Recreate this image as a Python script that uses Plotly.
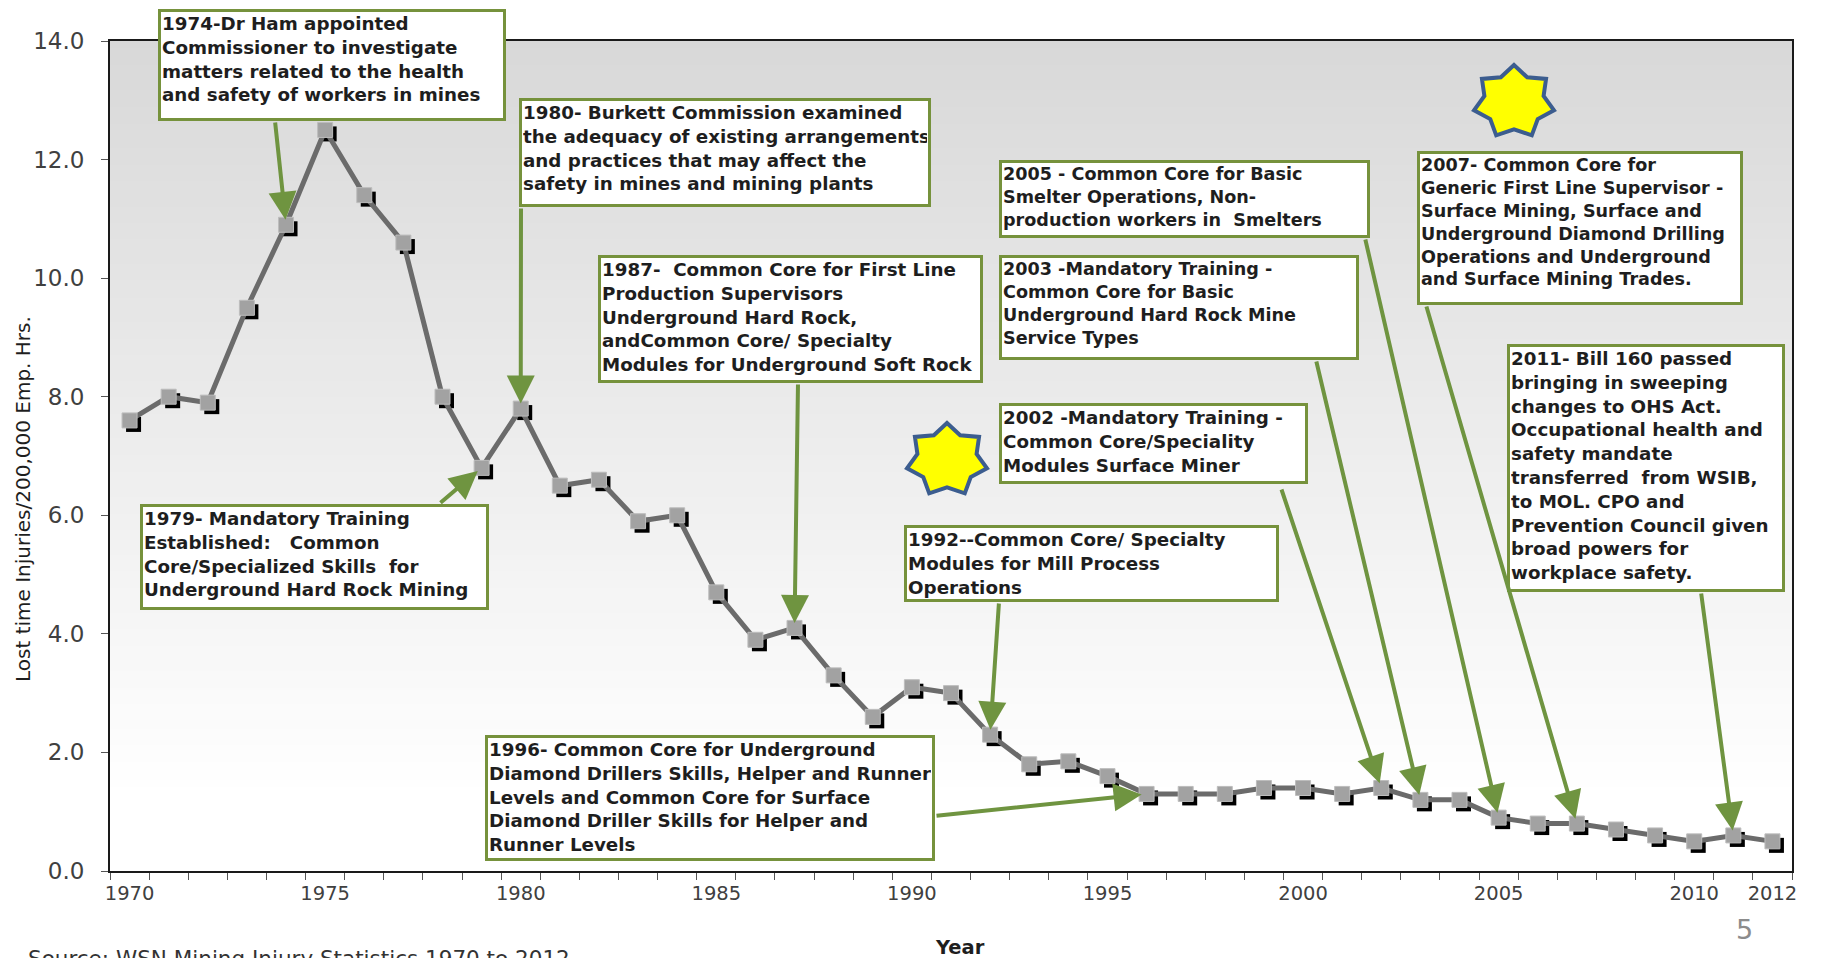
import math
import plotly.graph_objects as go

# ---------------- data ----------------
years = list(range(1970, 2013))
injury_rate = [7.6, 8.0, 7.9, 9.5, 10.9, 12.5, 11.4, 10.6, 8.0, 6.8,
               7.8, 6.5, 6.6, 5.9, 6.0, 4.7, 3.9, 4.1, 3.3, 2.6,
               3.1, 3.0, 2.3, 1.8, 1.85, 1.6, 1.3, 1.3, 1.3, 1.4,
               1.4, 1.3, 1.4, 1.2, 1.2, 0.9, 0.8, 0.8, 0.7, 0.6,
               0.5, 0.6, 0.5]
x_tick_labels = [1970, 1975, 1980, 1985, 1990, 1995, 2000, 2005, 2010, 2012]
y_tick_values = [0, 2, 4, 6, 8, 10, 12, 14]

event_years = [1974, 1980, 1979, 1987, 1992, 1996, 2002, 2003, 2005, 2007, 2011]
event_texts = [
    "1974-Dr Ham appointed<br>Commissioner to investigate<br>matters related to the health<br>and safety of workers in mines",
    "1980- Burkett Commission examined<br>the adequacy of existing arrangements<br>and practices that may affect the<br>safety in mines and mining plants",
    "1979- Mandatory Training<br>Established:&nbsp;&nbsp; Common<br>Core/Specialized Skills&nbsp; for<br>Underground Hard Rock Mining",
    "1987-&nbsp; Common Core for First Line<br>Production Supervisors<br>Underground Hard Rock,<br>andCommon Core/ Specialty<br>Modules for Underground Soft Rock",
    "1992--Common Core/ Specialty<br>Modules for Mill Process<br>Operations",
    "1996- Common Core for Underground<br>Diamond Drillers Skills, Helper and Runner<br>Levels and Common Core for Surface<br>Diamond Driller Skills for Helper and<br>Runner Levels",
    "2002 -Mandatory Training -<br>Common Core/Speciality<br>Modules Surface Miner",
    "2003 -Mandatory Training -<br>Common Core for Basic<br>Underground Hard Rock Mine<br>Service Types",
    "2005 - Common Core for Basic<br>Smelter Operations, Non-<br>production workers in&nbsp; Smelters",
    "2007- Common Core for<br>Generic First Line Supervisor -<br>Surface Mining, Surface and<br>Underground Diamond Drilling<br>Operations and Underground<br>and Surface Mining Trades.",
    "2011- Bill 160 passed<br>bringing in sweeping<br>changes to OHS Act.<br>Occupational health and<br>safety mandate<br>transferred&nbsp; from WSIB,<br>to MOL. CPO and<br>Prevention Council given<br>broad powers for<br>workplace safety.",
]

# ---------------- layout geometry (page pixels) ----------------
PAGE_W, PAGE_H = 1821, 958
BODY = 8                      # default page body margin
W, H = PAGE_W - BODY, PAGE_H - BODY
L, R, T, B = 110, 1792, 41, 871   # plot area in page pixels
PW, PH = R - L, B - T
X0, X1 = 1969.5, 2012.5
Y0, Y1 = 0.0, 14.0

def px_x(px):
    return (px - L) / PW

def px_y(py):
    return (B - py) / PH

def data_x(px):
    return X0 + (px - L) / PW * (X1 - X0)

def data_y(py):
    return Y0 + (B - py) / PH * (Y1 - Y0)

# box geometry: (left, top, width, height, font size)
boxes = [
    (158, 9, 348, 112, 18.3),
    (519, 98, 412, 109, 18.3),
    (140, 504, 349, 106, 18.3),
    (598, 255, 385, 128, 18.3),
    (904, 525, 375, 77, 18.3),
    (485, 735, 450, 126, 18.3),
    (999, 403, 309, 81, 18.3),
    (999, 255, 360, 105, 17.6),
    (999, 160, 371, 78, 17.6),
    (1417, 151, 326, 154, 17.6),
    (1507, 344, 278, 248, 18.3),
]
# arrow tails (page pixels)
tails = [(275, 121), (521, 207), (439, 504), (798, 383), (999, 602), (935, 816),
         (1281, 488), (1316, 360), (1365, 238), (1426, 305), (1701, 592)]

FONT = "'DejaVu Sans', Verdana, sans-serif"
GREEN_BOX = "#76923c"
GREEN_ARROW = "#6f9440"

fig = go.Figure()

# drop-shadow offset (pixels)
sh = 4
sx = sh / PW * (X1 - X0)
sy = sh / PH * (Y1 - Y0)

fig.add_trace(go.Scatter(x=years, y=injury_rate, mode="markers", xaxis="x2", yaxis="y2",
                         marker=dict(symbol="square", size=15, color="#000000"),
                         hoverinfo="skip", showlegend=False))
fig.add_trace(go.Scatter(x=years, y=injury_rate, mode="lines+markers", xaxis="x3", yaxis="y3",
                         line=dict(color="#6b6b6b", width=5),
                         marker=dict(symbol="square", size=15, color="#a2a2a2",
                                     line=dict(color="#bdbdbd", width=1)),
                         showlegend=False))

# gradient background bands
shapes = []
n = 100
for i in range(n):
    t = (i + 0.5) / n  # 0 top -> 1 bottom
    c0, c1 = 0xd8, 0xff
    v = int(round(min(c1, c0 + (c1 - c0) * t * 1.1)))
    col = f"rgb({v},{v},{v})"
    shapes.append(dict(type="rect", xref="paper", yref="paper", x0=0, x1=1,
                       y0=1 - (i + 1) / n, y1=1 - i / n + 0.001,
                       fillcolor=col, line=dict(width=0), layer="below"))

# stars
def star_path(cx, cy, rx, ry, npts=7, inner=0.74):
    pts = []
    for k in range(2 * npts):
        ang = math.pi / 2 + k * math.pi / npts
        r = 1.0 if k % 2 == 0 else inner
        px = cx + rx * r * math.cos(ang)
        py = cy - ry * r * math.sin(ang)
        pts.append((px_x(px), px_y(py)))
    return "M " + " L ".join(f"{a:.5f},{b:.5f}" for a, b in pts) + " Z"

for (cx, cy) in [(947, 460), (1514, 102)]:
    shapes.append(dict(type="path", xref="paper", yref="paper",
                       path=star_path(cx, cy, 41, 37),
                       fillcolor="#ffff00", line=dict(color="#3c5d8f", width=4), layer="above"))

annotations = []
# text boxes
for (left, top, w, h, fs), txt in zip(boxes, event_texts):
    annotations.append(dict(
        xref="paper", yref="paper", x=px_x(left), y=px_y(top),
        xanchor="left", yanchor="top", text=f"<b>{txt}</b>",
        showarrow=False, align="left", valign="top",
        width=w - 8, height=h - 8,
        bgcolor="#ffffff", bordercolor=GREEN_BOX, borderwidth=3, borderpad=1,
        font=dict(family=FONT, size=fs, color="#1e1e1e")))

# arrows
rate_by_year = dict(zip(years, injury_rate))
for yr, (tx, ty) in zip(event_years, tails):
    annotations.append(dict(
        x=yr, y=rate_by_year[yr], xref="x", yref="y",
        ax=data_x(tx), ay=data_y(ty), axref="x", ayref="y",
        text="", showarrow=True, arrowhead=2, arrowsize=1.4, arrowwidth=4,
        arrowcolor=GREEN_ARROW, standoff=5))

# axis titles / misc text
annotations.append(dict(xref="paper", yref="paper", x=px_x(23), y=px_y(499),
                        text="Lost time Injuries/200,000 Emp. Hrs.", textangle=-90,
                        showarrow=False, xanchor="center", yanchor="middle",
                        font=dict(family=FONT, size=20, color="#1e1e1e")))
annotations.append(dict(xref="paper", yref="paper", x=px_x(960), y=px_y(934),
                        text="<b>Year</b>", showarrow=False, xanchor="center", yanchor="top",
                        font=dict(family=FONT, size=19.5, color="#1e1e1e")))
annotations.append(dict(xref="paper", yref="paper", x=px_x(26), y=px_y(944),
                        text="Source: WSN Mining Injury Statistics 1970 to 2012", showarrow=False,
                        xanchor="left", yanchor="top",
                        font=dict(family=FONT, size=21.5, color="#333333")))
annotations.append(dict(xref="paper", yref="paper", x=px_x(1744), y=px_y(929),
                        text="5", showarrow=False, xanchor="center", yanchor="middle",
                        font=dict(family="'Liberation Sans Narrow', 'DejaVu Sans', sans-serif",
                                  size=27, color="#8c8c8c")))

fig.update_layout(
    width=W, height=H,
    margin=dict(l=L - BODY, r=PAGE_W - R, t=T - BODY, b=PAGE_H - B, pad=0),
    paper_bgcolor="#ffffff", plot_bgcolor="#ffffff",
    showlegend=False,
    shapes=shapes, annotations=annotations,
    xaxis=dict(range=[X0, X1], tickvals=x_tick_labels, ticktext=[str(v) for v in x_tick_labels],
               ticks="", showgrid=False, zeroline=False, showline=True, linecolor="#1a1a1a",
               linewidth=2, mirror=True, ticklabelstandoff=4,
               tickfont=dict(family=FONT, size=19.5, color="#404040"),
               minor=dict(tick0=1969.5, dtick=1, ticks="outside", ticklen=7,
                          tickcolor="#555555", tickwidth=1, showgrid=False)),
    yaxis=dict(range=[Y0, Y1], tickvals=y_tick_values, tickformat=".1f",
               ticks="outside", ticklen=7, tickcolor="#555555", showgrid=False, zeroline=False,
               showline=True, linecolor="#1a1a1a", linewidth=2, mirror=True,
               ticklabelstandoff=12,
               tickfont=dict(family=FONT, size=23, color="#404040")),
    xaxis2=dict(range=[X0 - sx, X1 - sx], overlaying="x", visible=False, anchor="y2"),
    yaxis2=dict(range=[Y0 + sy, Y1 + sy], overlaying="y", visible=False, anchor="x2"),
    xaxis3=dict(range=[X0, X1], overlaying="x", visible=False, anchor="y3"),
    yaxis3=dict(range=[Y0, Y1], overlaying="y", visible=False, anchor="x3"),
)

fig.write_html("out.html")
